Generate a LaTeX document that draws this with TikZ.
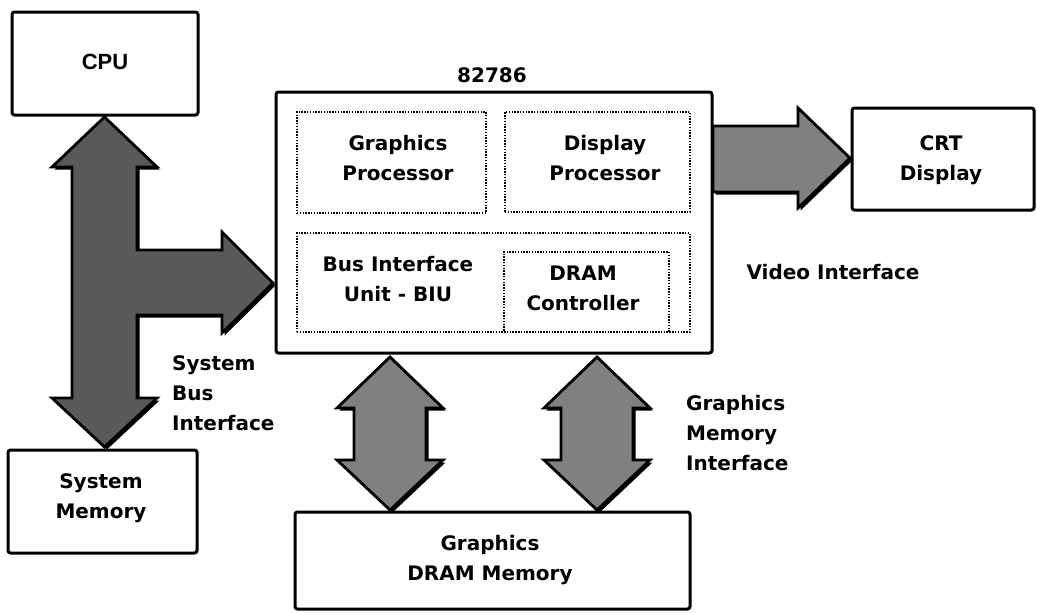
\documentclass[tikz,border=0pt]{standalone}
\usepackage{fontspec}
\setmainfont{DejaVu Sans}
\newfontfamily\helv{Liberation Sans}
\usetikzlibrary{shadows}
\begin{document}
\begin{tikzpicture}[x=1pt,y=-1pt,
  box/.style={draw, line width=3pt, rounded corners=2.5pt, inner sep=0pt},
  dbox/.style={draw, line width=1.6pt, dash pattern=on 1.4pt off 1.4pt, inner sep=0pt},
  txt/.style={font=\fontsize{20}{30}\selectfont\bfseries, align=center, inner sep=0pt},
  ltxt/.style={txt, align=left},
  fat/.style={fill=black!50, draw=black, line width=2.8pt, line join=miter,
    drop shadow={shadow xshift=2.5pt, shadow yshift=-2.5pt, opacity=1, fill=black}},
  fatdark/.style={fat, fill=black!65},
]
\useasboundingbox (0,0) rectangle (1037,613);

% boxes
\node[box, minimum width=186pt, minimum height=103pt] (cpu) at (105,63.5) {};
\node[box, minimum width=189pt, minimum height=103pt] (sysmem) at (102.5,501.5) {};
\node[box, minimum width=436pt, minimum height=261pt] (main) at (494,222.5) {};
\node[dbox, minimum width=189pt, minimum height=101pt] (gp) at (391.5,162.5) {};
\node[dbox, minimum width=185pt, minimum height=100pt] (dp) at (597.5,162) {};
\node[dbox, minimum width=393pt, minimum height=99pt] (biu) at (493.5,282.5) {};
\node[dbox, minimum width=165pt, minimum height=80pt] (dramc) at (586.5,292) {};
\node[box, minimum width=182pt, minimum height=102pt] (crt) at (943,159) {};
\node[box, minimum width=395pt, minimum height=97pt] (gmem) at (492.5,560.5) {};

% texts
\node[font=\helv\fontsize{22}{26}\selectfont\bfseries, inner sep=0pt] (cputxt) at (105,62) {CPU};
\node[txt] (chip) at (492,75) {82786};
\node[txt] (gptxt) at (398,158) {Graphics\\Processor};
\node[txt] (dptxt) at (605,158) {Display\\Processor};
\node[txt] (biutxt) at (398,279) {Bus Interface\\Unit - BIU};
\node[txt] (dramctxt) at (583,288) {DRAM\\Controller};
\node[txt] (crttxt) at (941,160) {CRT\\Display};
\node[txt] (smtxt) at (101,498) {System\\Memory};
\node[txt] (gmtxt) at (490,560) {Graphics\\DRAM Memory};
\node[txt] (vidtxt) at (833,272) {Video Interface};
\node[ltxt, anchor=west] (sbitxt) at (172,393) {System\\Bus\\Interface};
\node[ltxt, anchor=west] (gmitxt) at (686,433) {Graphics\\Memory\\Interface};

% system bus arrow (CPU <-> system memory, branch to 82786)
\draw[fatdark] (104.5,117) -- (157,167) -- (137,167) -- (137,250) -- (222,250) -- (222,232)
  -- (273,283) -- (222,333) -- (222,315) -- (137,315) -- (137,398) -- (157,398)
  -- (104.5,447) -- (52,398) -- (72,398) -- (72,167) -- (52,167) -- cycle;

% video interface arrow
\draw[fat] (713,126) -- (798,126) -- (798,108) -- (850,158) -- (798,208) -- (798,192) -- (713,192) -- cycle;

% graphics memory double arrows
\foreach \cx in {390, 597}{
  \draw[fat] (\cx,357) -- (\cx+53,408) -- (\cx+36,408) -- (\cx+36,460) -- (\cx+53,460)
    -- (\cx,510) -- (\cx-53,460) -- (\cx-36,460) -- (\cx-36,408) -- (\cx-53,408) -- cycle;
}
\end{tikzpicture}
\end{document}
